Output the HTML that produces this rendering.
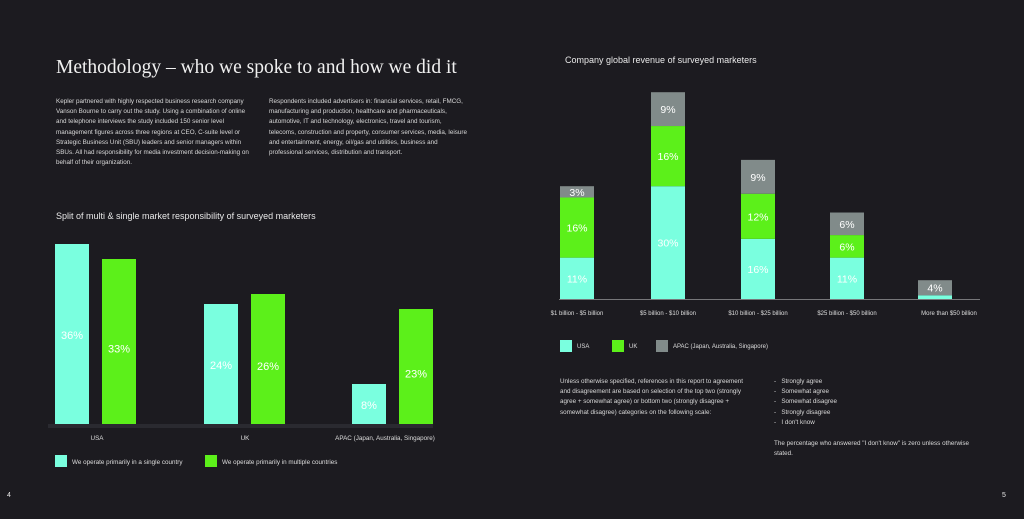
<!DOCTYPE html>
<html><head><meta charset="utf-8">
<style>
body{margin:0;width:1024px;height:519px;background:#1c1b20;font-family:"Liberation Sans",sans-serif;color:#e8e8e8;overflow:hidden;position:relative}
.t{position:absolute;white-space:nowrap}
.p{position:absolute;font-size:6.3px;line-height:10.2px;color:#d8d8d8}
svg{position:absolute;left:0;top:0}
</style></head><body>
<div class="t" style="left:56px;top:57px;font-family:'Liberation Serif',serif;font-size:19.5px;color:#f0f0f0">Methodology – who we spoke to and how we did it</div>
<div class="p" style="left:56px;top:97px;width:200px">Kepler partnered with highly respected business research company Vanson Bourne to carry out the study. Using a combination of online and telephone interviews the study included 150 senior level management figures across three regions at CEO, C-suite level or Strategic Business Unit (SBU) leaders and senior managers within SBUs. All had responsibility for media investment decision-making on behalf of their organization.</div>
<div class="p" style="left:269px;top:97px;width:200px">Respondents included advertisers in: financial services, retail, FMCG, manufacturing and production, healthcare and pharmaceuticals, automotive, IT and technology, electronics, travel and tourism, telecoms, construction and property, consumer services, media, leisure and entertainment, energy, oil/gas and utilities, business and professional services, distribution and transport.</div>
<div class="t" style="left:56px;top:211px;font-size:9px">Split of multi &amp; single market responsibility of surveyed marketers</div>
<div class="t" style="left:565px;top:55px;font-size:9px">Company global revenue of surveyed marketers</div>
<div class="p" style="left:560px;top:377px;width:195px">Unless otherwise specified, references in this report to agreement and disagreement are based on selection of the top two (strongly agree + somewhat agree) or bottom two (strongly disagree + somewhat disagree) categories on the following scale:</div>
<div class="p" style="left:774px;top:377px">-&nbsp;&nbsp; Strongly agree<br>-&nbsp;&nbsp; Somewhat agree<br>-&nbsp;&nbsp; Somewhat disagree<br>-&nbsp;&nbsp; Strongly disagree<br>-&nbsp;&nbsp; I don't know</div>
<div class="p" style="left:774px;top:439px;width:200px">The percentage who answered "I don't know" is zero unless otherwise stated.</div>
<div class="t" style="left:7px;top:492px;font-size:7px">4</div>
<div class="t" style="left:1002px;top:492px;font-size:7px">5</div>
<svg id="chart" width="1024" height="519"></svg>
<script>
const leftCats=["USA","UK","APAC (Japan, Australia, Singapore)"];
const leftSingle=[36,24,8];
const leftMulti=[33,26,23];
const rightCats=["$1 billion - $5 billion","$5 billion - $10 billion","$10 billion - $25 billion","$25 billion - $50 billion","More than $50 billion"];
const usaVals=[11,30,16,11,1];
const ukVals=[16,16,12,6,0];
const apacVals=[3,9,9,6,4];
const C={usa:"#7affdf",uk:"#5cf01a",apac:"#818b8a"};
const NS="http://www.w3.org/2000/svg";
const svg=document.getElementById('chart');
function mk(tag,a,txt){const e=document.createElementNS(NS,tag);for(const k in a)e.setAttribute(k,a[k]);if(txt!=null)e.textContent=txt;svg.appendChild(e);return e;}
const lBase=424, lScale=5;
const lY=v=>lBase-v*lScale;
const lGroupX=[55,204,352], bw=34;
const lLabelX=[97,245,385];
mk('rect',{x:48,y:424,width:385,height:4,fill:'#2a2a30'});
leftCats.forEach((c,i)=>{
  const x1=lGroupX[i], x2=lGroupX[i]+47;
  let r=mk('rect',{x:x1,y:lY(leftSingle[i]),width:bw,height:leftSingle[i]*lScale,fill:C.usa});
  
  
  r=mk('rect',{x:x2,y:lY(leftMulti[i]),width:bw,height:leftMulti[i]*lScale,fill:C.uk});
  
  
  let t=mk('text',{x:x1+bw/2,y:(lY(leftSingle[i])+lBase)/2+5,'text-anchor':'middle','font-size':11,fill:'#fff'},leftSingle[i]+'%');
  
  
  t=mk('text',{x:x2+bw/2,y:(lY(leftMulti[i])+lBase)/2+11,'text-anchor':'middle','font-size':11,fill:'#fff'},leftMulti[i]+'%');
  
  
  t=mk('text',{x:lLabelX[i],y:440,'text-anchor':'middle','font-size':6.3,fill:'#ddd'},c);
  
  
});
[[55,C.usa,"We operate primarily in a single country"],[205,C.uk,"We operate primarily in multiple countries"]].forEach((l,i)=>{
  let r=mk('rect',{x:l[0],y:455,width:12,height:12,fill:l[1]});
  
  
  let t=mk('text',{x:l[0]+17,y:464,'font-size':6.3,fill:'#ddd'},l[2]);
  
  
});
const rBase=299, rScale=3.76;
const rX=[560,651,741,830,918], rbw=34;
mk('line',{x1:559,x2:980,y1:299.5,y2:299.5,stroke:'#77777a','stroke-width':1});
rightCats.forEach((c,i)=>{
  let acc=0;
  [[usaVals[i],C.usa,'usa'],[ukVals[i],C.uk,'uk'],[apacVals[i],C.apac,'apac']].forEach(s=>{
    const v=s[0]; if(!v)return;
    const y=rBase-(acc+v)*rScale, h=v*rScale;
    let r=mk('rect',{x:rX[i],y:y,width:rbw,height:h,fill:s[1]});
    
    
    if(v>=3){
      let t=mk('text',{x:rX[i]+rbw/2,y:y+h/2+4,'text-anchor':'middle','font-size':10.5,fill:'#fff'},v+'%');
      
      
    }
    acc+=v;
  });
  let t=mk('text',{x:rX[i]+rbw/2+(i==4?14:0),y:315,'text-anchor':'middle','font-size':6,fill:'#ddd'},c);
  
  
});
[[560,C.usa,"USA"],[612,C.uk,"UK"],[656,C.apac,"APAC (Japan, Australia, Singapore)"]].forEach((l,i)=>{
  let r=mk('rect',{x:l[0],y:340,width:12,height:12,fill:l[1]});
  
  
  let t=mk('text',{x:l[0]+17,y:348,'font-size':6,fill:'#ddd'},l[2]);
  
  
});
</script>
</body></html>
